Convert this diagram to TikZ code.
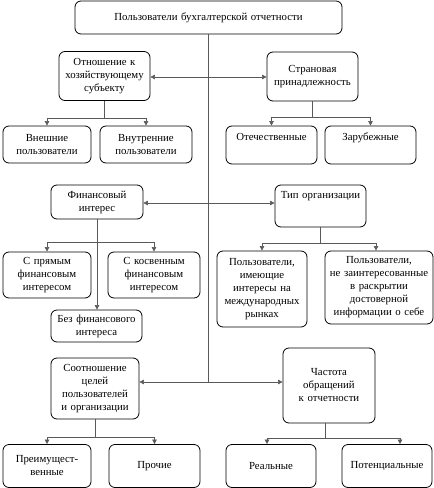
\documentclass[tikz,border=0pt]{standalone}
\usepackage{fontspec}
\setmainfont{Liberation Serif}
\usetikzlibrary{arrows.meta}
\tikzset{
  bx/.style={draw=black, line width=0.8pt, rounded corners=6pt, align=center, inner sep=1pt,
    font=\fontsize{10.8}{13}\selectfont},
  ln/.style={draw=black!65, line width=0.6pt},
  arr/.style={ln, -{Triangle[length=4.5pt,width=4.5pt]}},
}
\begin{document}
\begin{tikzpicture}[x=1pt,y=-1pt]
\useasboundingbox (0,0) rectangle (434,488);
% boxes
\node[bx, minimum width=267pt, minimum height=33pt, text width=260pt] (top) at (208.5,17.5) {Пользователи бухгалтерской отчетности};
\node[bx, minimum width=91pt, minimum height=49pt, text width=89pt] (otn) at (104.5,76) {Отношение к\\хозяйствующему\\субъекту};
\node[bx, minimum width=91pt, minimum height=49pt, text width=89pt] (stran) at (312.5,76.5) {Страновая\\принадлежность};
\node[bx, minimum width=88pt, minimum height=37pt, text width=86pt] (vnesh) at (47,144.5) {Внешние\\пользователи};
\node[bx, minimum width=92pt, minimum height=37pt, text width=90pt] (vnutr) at (146,144.5) {Внутренние\\пользователи};
\node[bx, minimum width=91pt, minimum height=38pt, text width=89pt, text depth=16pt] (otech) at (271.5,145) {Отечественные};
\node[bx, minimum width=91pt, minimum height=38pt, text width=89pt, text depth=16pt] (zarub) at (370.5,145) {Зарубежные};
\node[bx, minimum width=92pt, minimum height=34pt, text width=90pt] (fin) at (97,202) {Финансовый\\интерес};
\node[bx, minimum width=91pt, minimum height=42pt, text width=89pt, text depth=22pt] (tip) at (320.5,206) {Тип организации};
\node[bx, minimum width=88pt, minimum height=46pt, text width=86pt] (pryam) at (47,275) {С прямым\\финансовым\\интересом};
\node[bx, minimum width=92pt, minimum height=46pt, text width=90pt] (kosv) at (154,275) {С косвенным\\финансовым\\интересом};
\node[bx, minimum width=91pt, minimum height=32pt, text width=89pt] (bez) at (96.5,326) {Без финансового\\интереса};
\node[bx, minimum width=90pt, minimum height=76pt, text width=88pt] (mezh) at (262,289) {Пользователи,\\имеющие\\интересы на\\международных\\рынках};
\node[bx, minimum width=108pt, minimum height=73pt, text width=106pt] (nezain) at (379,287.5) {Пользователи,\\не заинтересованные\\в раскрытии\\достоверной\\информации о себе};
\node[bx, minimum width=88pt, minimum height=61pt, text width=86pt] (sootn) at (95,388.5) {Соотношение\\целей\\пользователей\\и организации};
\node[bx, minimum width=92pt, minimum height=75pt, text width=90pt] (chast) at (329,385.5) {Частота\\обращений\\к отчетности};
\node[bx, minimum width=88pt, minimum height=43pt, text width=86pt] (preim) at (47,466) {Преимущест-\\венные};
\node[bx, minimum width=91pt, minimum height=43pt, text width=89pt] (proch) at (154.5,466) {Прочие};
\node[bx, minimum width=90pt, minimum height=43pt, text width=88pt] (real) at (271,466) {Реальные};
\node[bx, minimum width=90pt, minimum height=43pt, text width=88pt] (poten) at (387,466) {Потенциальные};
% trunk
\coordinate (t1) at (208.5,77);
\coordinate (t2) at (208.5,203);
\coordinate (t3) at (208.5,382);
\draw[ln] (top.south) -- (t3);
\draw[arr] (t1) -- (t1 -| otn.east);
\draw[arr] (t1) -- (t1 -| stran.west);
\draw[arr] (t2) -- (t2 -| fin.east);
\draw[arr] (t2) -- (t2 -| tip.west);
\draw[arr] (t3) -- (t3 -| sootn.east);
\draw[arr] (t3) -- (t3 -| chast.west);
% children
\draw[arr] (otn.south) -- ++(0,17) -| (vnesh.north);
\draw[arr] (otn.south) -- ++(0,17) -| (vnutr.north);
\draw[arr] (stran.south) -- ++(0,16) -| (otech.north);
\draw[arr] (stran.south) -- ++(0,16) -| (zarub.north);
\draw[arr] (fin.south) -- ++(0,23) -| (pryam.north);
\draw[arr] (fin.south) -- ++(0,23) -| (kosv.north);
\draw[arr] (fin.south) -- (bez.north -| fin.south);
\draw[arr] (tip.south) -- ++(0,16) -| (mezh.north);
\draw[arr] (tip.south) -- ++(0,16) -| ([xshift=-3pt]nezain.north);
\draw[arr] (sootn.south) -- ++(0,18) -| (preim.north);
\draw[arr] (sootn.south) -- ++(0,18) -| (proch.north);
\draw[arr] ([xshift=-4pt]chast.south) -- ++(0,15) -| ([xshift=-4pt]real.north);
\draw[arr] ([xshift=-4pt]chast.south) -- ++(0,15) -| ([xshift=13pt]poten.north);
\end{tikzpicture}
\end{document}
